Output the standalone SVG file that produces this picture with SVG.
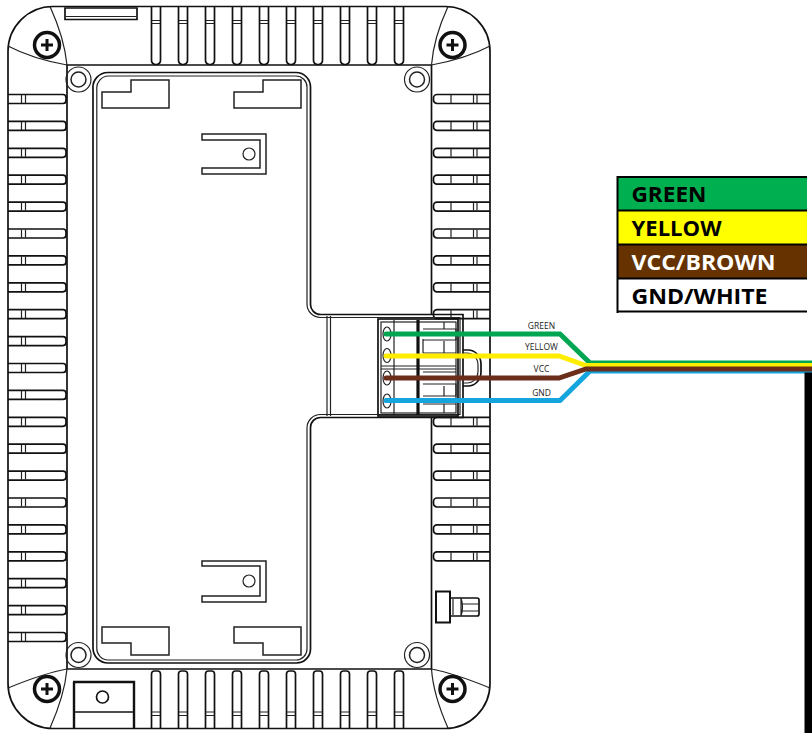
<svg xmlns="http://www.w3.org/2000/svg" xmlns:xlink="http://www.w3.org/1999/xlink" width="812" height="733" viewBox="0 0 812 733">
<style>
.l{fill:none;stroke:#222;stroke-width:1.2}
.t{fill:none;stroke:#111;stroke-width:1.7}
.k{fill:none;stroke:#111;stroke-width:2.600}
.w{fill:none;stroke-width:5;stroke-linejoin:miter;stroke-linecap:round}
.lg{font-family:"Open Sans","Liberation Sans",sans-serif;font-weight:700;font-size:21px}
.sm{font-family:"Open Sans","Liberation Sans",sans-serif;font-size:8.500px;fill:#222;text-anchor:middle}
</style>
<defs>
<g id="vs"><path class="t" d="M151.500 7V60a4 4 0 0 0 4 4.500h1a4 4 0 0 0 4-4.500V7"/><path class="l" d="M152 20.500h8M152 23.500h8"/></g>
<g id="vb"><path class="t" d="M151.500 728V674a3 3 0 0 1 3-3h3a3 3 0 0 1 3 3V728"/><path class="l" d="M152 712h8M152 715.500h8"/></g>
<g id="hl"><path class="t" d="M8 94.500H63a3 3 0 0 1 3 3v3a3 3 0 0 1-3 3H8"/><path class="l" d="M21.500 95v8M25.500 95v8"/></g>
<g id="hr"><path class="t" d="M490 94.500H437a3.500 3.500 0 0 0-3.500 3.500v2a3.500 3.500 0 0 0 3.500 3.500H490"/><path class="l" d="M451 95v8M473.500 95v8M477 95v8"/></g>
<g id="screw"><circle r="12.500" fill="#fff" stroke="#111" stroke-width="3.500"/><path d="M-6 0H6M0-6V6" stroke="#111" stroke-width="3" fill="none"/></g>
<g id="boss"><circle r="12.500" class="l" fill="#fff"/><circle r="7.500" class="l" fill="#fff" style="stroke-width:1.500"/></g>
</defs>
<rect width="812" height="733" fill="#fff"/>
<g id="housing">
<rect class="t" x="8" y="6.500" width="482" height="722" rx="45" ry="45"/>
<path class="t" d="M67 65H431.500M67 669H431.500M67 65V669M431.500 65V315M431.500 418V669"/>
<path class="l" d="M50 6.500C58 24 65 45 67 65C45 61 25 55 8 46M448 6.500C440 24 433 45 431.500 65C453 61 473 55 490 46M50 728C58 710 65 690 67 669C45 673 25 681 8 688M448 728C440 710 433 690 431.500 669C453 673 473 681 490 688"/>
<path class="t" d="M65 8H137V19.500H65Z"/><path class="l" d="M66 16.500H136"/>
<path class="t" d="M73 682H134V728M74 682V728" style="stroke-width:2.400"/><path class="t" d="M74 712H134"/><circle cx="102.500" cy="697" r="6" class="t"/>
</g>
<g id="top-slots">
<use xlink:href="#vs"/><use xlink:href="#vs" x="27"/><use xlink:href="#vs" x="54"/><use xlink:href="#vs" x="81"/><use xlink:href="#vs" x="108"/><use xlink:href="#vs" x="135"/><use xlink:href="#vs" x="162"/><use xlink:href="#vs" x="189"/><use xlink:href="#vs" x="216"/><use xlink:href="#vs" x="243"/>
</g>
<g id="bottom-slots">
<use xlink:href="#vb"/><use xlink:href="#vb" x="27"/><use xlink:href="#vb" x="54"/><use xlink:href="#vb" x="81"/><use xlink:href="#vb" x="108"/><use xlink:href="#vb" x="135"/><use xlink:href="#vb" x="162"/><use xlink:href="#vb" x="189"/><use xlink:href="#vb" x="216"/><use xlink:href="#vb" x="243"/>
</g>
<g id="left-slots">
<use xlink:href="#hl"/><use xlink:href="#hl" y="26.900"/><use xlink:href="#hl" y="53.800"/><use xlink:href="#hl" y="80.700"/><use xlink:href="#hl" y="107.600"/><use xlink:href="#hl" y="134.500"/><use xlink:href="#hl" y="161.400"/><use xlink:href="#hl" y="188.300"/><use xlink:href="#hl" y="215.200"/><use xlink:href="#hl" y="242.100"/><use xlink:href="#hl" y="269"/><use xlink:href="#hl" y="295.900"/><use xlink:href="#hl" y="322.800"/><use xlink:href="#hl" y="349.700"/><use xlink:href="#hl" y="376.600"/><use xlink:href="#hl" y="403.500"/><use xlink:href="#hl" y="430.400"/><use xlink:href="#hl" y="457.300"/><use xlink:href="#hl" y="484.200"/><use xlink:href="#hl" y="511.100"/><use xlink:href="#hl" y="538"/>
</g>
<g id="right-slots">
<use xlink:href="#hr"/><use xlink:href="#hr" y="26.900"/><use xlink:href="#hr" y="53.800"/><use xlink:href="#hr" y="80.700"/><use xlink:href="#hr" y="107.600"/><use xlink:href="#hr" y="134.500"/><use xlink:href="#hr" y="161.400"/><use xlink:href="#hr" y="188.300"/><use xlink:href="#hr" y="215.200"/><use xlink:href="#hr" y="322.800"/><use xlink:href="#hr" y="349.700"/><use xlink:href="#hr" y="376.600"/><use xlink:href="#hr" y="403.500"/><use xlink:href="#hr" y="430.400"/><use xlink:href="#hr" y="457.300"/>
</g>
<g id="screws">
<use xlink:href="#screw" x="47" y="45"/><use xlink:href="#screw" x="452.500" y="45"/><use xlink:href="#screw" x="47" y="689"/><use xlink:href="#screw" x="452.500" y="689"/>
</g>
<g id="bosses">
<use xlink:href="#boss" x="78.500" y="79.500"/><use xlink:href="#boss" x="417" y="79.500"/><use xlink:href="#boss" x="78.500" y="655"/><use xlink:href="#boss" x="417" y="655"/>
</g>
<g id="board">
<path class="t" d="M93 89a15 15 0 0 1 15-16.500H296a14.500 14.500 0 0 1 14.500 14.500V304a10 10 0 0 0 10 10.500H463V417.500H320.500a10 10 0 0 0-10 10V649a14 14 0 0 1-14 14H108a15 15 0 0 1-15-15Z"/>
<path class="l" d="M96.800 89a12 12 0 0 1 11.500-13H296a11 11 0 0 1 11 11V304a13.500 13.500 0 0 0 13.500 13.500H460V414.500H320.500a13.500 13.500 0 0 0-13.500 13.500V649a11 11 0 0 1-11 11H108a11.500 11.500 0 0 1-11.200-12Z"/>
<path class="l" d="M327 316V416M330.500 316V416"/>
<path class="l" d="M102 108V92H131V80H169V108ZM234 108V92H263V80H301V108ZM102 627H169V655H131V643H102ZM234 627H301V655H263V643H234Z" style="stroke-width:1.500"/>
<path class="l" d="M202 134H266V174H202V168H260V140H202ZM202 561H266V602H202V596H260V566H202Z" style="stroke-width:1.500"/>
<circle cx="249" cy="154" r="6" class="l"/><circle cx="249" cy="581" r="6" class="l"/>
</g>
<g id="terminal">
<rect class="t" x="378" y="319" width="80" height="97"/>
<rect class="l" x="381" y="322" width="75" height="91"/>
<path class="l" d="M394 320V415M381 366H456M381 369H456"/>
<path d="M418 320V415" stroke="#111" stroke-width="3.200"/>
<path class="l" d="M423 329H456V340H423M423 339V353M423 353H456M423 372H456M423 384H456V396H423M423 404H456M444 322V329M444 341V353M444 386V396M444 404V413"/>
<ellipse cx="387" cy="334" rx="4" ry="7" class="l"/><ellipse cx="387" cy="355.500" rx="4" ry="7" class="l"/><ellipse cx="387" cy="378" rx="4" ry="7" class="l"/><ellipse cx="387" cy="401" rx="4" ry="7" class="l"/>
<path class="t" d="M463 350H468C475 350 481 356 481 364V372C481 380 475 386 468 386H463"/>
<path class="l" d="M463 353H467C473 353 478 358 478 365V371C478 378 473 383 467 383H463"/>
</g>
<g id="knob">
<rect class="t" x="436" y="591.500" width="14" height="31" style="stroke-width:2"/>
<path class="t" d="M450 598H477a2 2 0 0 1 2 2V614a2 2 0 0 1-2 2H450"/>
<path class="l" d="M453 599V615M461 598V616M461 598C463 604 463 610 461 616M479 604H462M479 611H462"/>
</g>
<g id="connectors">
<path class="w" stroke="#00a651" d="M386 334H560L590 363H812"/>
<path class="w" stroke="#14a5de" d="M386 400.500H560L590 371H812"/>
<path class="w" stroke="#ffed00" d="M386 356H559L586 365.500H812"/>
<path class="w" stroke="#6b2e1a" d="M386 378H559L586 369H812"/>
</g>
<g id="wire-labels">
<text class="sm" x="541.500" y="328.500">GREEN</text>
<text class="sm" x="541.500" y="350">YELLOW</text>
<text class="sm" x="541.500" y="372">VCC</text>
<text class="sm" x="541.500" y="396">GND</text>
</g>
<g id="legend">
<rect x="617" y="177" width="190" height="33" fill="#00b050"/>
<rect x="617" y="211" width="190" height="33" fill="#ffff00"/>
<rect x="617" y="245" width="190" height="33" fill="#663300"/>
<rect x="617" y="279" width="190" height="33" fill="#fff"/>
<path d="M616.500 177H807M616.500 210.500H807M616.500 244.500H807M616.500 278.500H807M616.500 311.500H807M617.500 176V313" stroke="#000" stroke-width="2" fill="none"/>
<text class="lg" x="631.500" y="202" textLength="75" lengthAdjust="spacingAndGlyphs">GREEN</text>
<text class="lg" x="631.500" y="236" textLength="90" lengthAdjust="spacingAndGlyphs">YELLOW</text>
<text class="lg" x="631.500" y="270" textLength="144" lengthAdjust="spacingAndGlyphs" fill="#fff">VCC/BROWN</text>
<text class="lg" x="631.500" y="304" textLength="136" lengthAdjust="spacingAndGlyphs">GND/WHITE</text>
</g>
<rect id="black-bar" x="804.500" y="372.500" width="7.500" height="361" fill="#000"/>
</svg>
